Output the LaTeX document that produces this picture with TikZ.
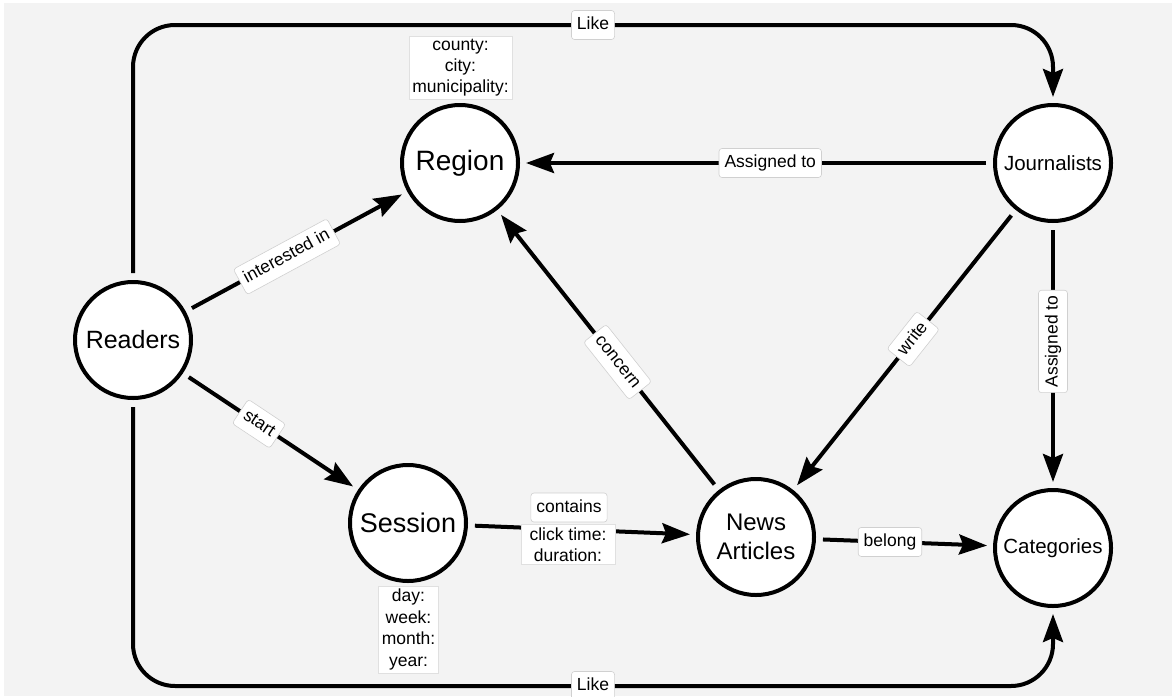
\documentclass[tikz,border=0pt]{standalone}
\usepackage{fontspec}
\setmainfont{Liberation Sans}
\usetikzlibrary{arrows.meta}
\definecolor{canvas}{RGB}{243,243,243}
\definecolor{labelrim}{RGB}{208,208,208}
\definecolor{attrrim}{RGB}{224,224,224}
\begin{document}
\begin{tikzpicture}[x=1pt,y=-1pt,
  entity/.style={circle, draw=black, line width=4pt, fill=white,
    minimum size=116pt, inner sep=0pt, align=center},
  rel/.style={line width=4pt, -{Stealth[length=28pt,width=20pt,inset=4pt]},
    shorten >=6pt, shorten <=7pt},
  elabel/.style={fill=white, draw=labelrim, line width=0.6pt, rounded corners=3pt,
    inner xsep=5.5pt, inner ysep=6pt, text height=13pt, text depth=4pt,
    font=\fontsize{17.5}{21}\selectfont},
  attr/.style={fill=white, draw=attrrim, line width=0.6pt, inner xsep=3.5pt,
    inner ysep=3pt, align=center},
]
% canvas
\fill[white] (0,0) rectangle (1172,696);
\fill[canvas] (4,3) rectangle (1172,696);
\useasboundingbox (0,0) rectangle (1172,696);

% entities
\node[entity, font=\fontsize{25}{30}\selectfont] (readers) at (133,340) {Readers};
\node[entity, font=\fontsize{28}{33}\selectfont] (region) at (460,163) {Region};
\node[entity, font=\fontsize{20.5}{25}\selectfont] (journ) at (1053,163) {Journalists};
\node[entity, font=\fontsize{27}{32}\selectfont] (session) at (408,523) {Session};
\node[entity, font=\fontsize{24}{29}\selectfont] (news) at (756,537) {News\\Articles};
\node[entity, font=\fontsize{20.5}{25}\selectfont] (cat) at (1053,548) {Categories};

% relations
\draw[rel] (readers) -- node[elabel, pos=0.457, rotate=28.4] {interested in} (region);
\draw[rel] (readers) -- node[elabel, pos=0.434, rotate=-33.6] {start} (session);
\draw[rel] (journ) -- node[elabel, pos=0.471] {Assigned to} (region);
\draw[rel] (journ) -- node[elabel, pos=0.447, rotate=90] {Assigned to} (cat);
\draw[rel] (journ) -- node[elabel, pos=0.461, rotate=51.6] {write} (news);
\draw[rel] (news) -- node[elabel, pos=0.457, rotate=-51.6] {concern} (region);
\draw[rel] (news) -- node[elabel, pos=0.418] {belong} (cat);
\draw[rel] (session) -- (news);

% readers like journalists / categories
\draw[rel, rounded corners=42pt] (readers.north) -- (133,25) -- (1053,25) -- (journ.north);
\draw[rel, rounded corners=42pt] (readers.south) -- (133,686) -- (1053,686) -- (cat.south);
\node[elabel] (liketop) at (593,25) {Like};
\node[elabel] (likebot) at (593,686) {Like};

% attributes
\node[attr, font=\fontsize{17.5}{21}\selectfont] (regionattr) at (460.5,67.5)
  {county:\\city:\\municipality:};
\node[attr, font=\fontsize{17.5}{21.5}\selectfont] (sessionattr) at (408.5,629.5)
  {day:\\week:\\month:\\year:};
\node[attr, font=\fontsize{17.5}{21}\selectfont, minimum width=94pt] (clickattr) at (568,544.5)
  {click time:\\duration:};
\node[elabel] (contains) at (569,507.5) {contains};
\end{tikzpicture}
\end{document}
